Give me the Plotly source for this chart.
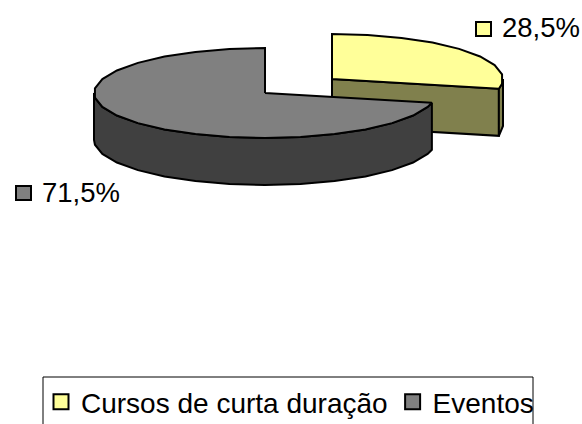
import math
import plotly.graph_objects as go

categories = ["Cursos de curta duração", "Eventos"]
values = [28.5, 71.5]

W, H = 582, 424
RX, RY, DEPTH = 171, 45, 47
CENTERS = [(332, 79), (265, 93)]
TOP = ["#FFFF99", "#808080"]
SIDE = ["#80804D", "#404040"]
STEP = 12
LW = 2

def pt(c, a, dy=0):
    r = math.radians(a)
    return c[0] + RX * math.sin(r), c[1] - RY * math.cos(r) + dy

def arc(c, a0, a1, dy=0):
    angs = [a0]
    k = math.floor(a0 / STEP) + 1
    while k * STEP < a1:
        angs.append(k * STEP)
        k += 1
    angs.append(a1)
    return [pt(c, a, dy) for a in angs]

def poly(points, fill):
    xs = [p[0] for p in points] + [points[0][0]]
    ys = [p[1] for p in points] + [points[0][1]]
    return go.Scatter(x=xs, y=ys, mode="lines", fill="toself", fillcolor=fill,
                      line=dict(color="black", width=LW), showlegend=False, hoverinfo="skip")

fig = go.Figure()
ends = [360 * values[0] / sum(values), 360]
c0, c1 = CENTERS

# yellow slice: cut face, rim, top
a = ends[0]
fig.add_trace(poly([c0, pt(c0, a), pt(c0, a, DEPTH), (c0[0], c0[1] + DEPTH)], SIDE[0]))
rim = arc(c0, 90, a)
fig.add_trace(poly(rim + [pt(c0, x, DEPTH) for x in [a, 90]], SIDE[0]))
fig.add_trace(poly([c0] + arc(c0, 0, a), TOP[0]))

# grey slice: wall, top
wall_top = arc(c1, a, 270)
wall_bot = arc(c1, a, 270, DEPTH)[::-1]
fig.add_trace(poly(wall_top + wall_bot, SIDE[1]))
fig.add_trace(poly([c1] + arc(c1, a, 360), TOP[1]))

# legend entries
for name, col in zip(categories, TOP):
    fig.add_trace(go.Scatter(x=[None], y=[None], mode="markers", name=name,
                             marker=dict(symbol="square", size=15, color=col,
                                         line=dict(color="black", width=2))))

def label(v):
    return f"{v:.1f}".replace(".", ",") + "%"

keys = [(476, 22, 491, 36), (16, 186, 31, 200)]
texts = [(500, 27), (40, 192)]
shapes = [dict(type="rect", xref="x", yref="y", x0=k[0], y0=k[1], x1=k[2], y1=k[3],
               fillcolor=c, line=dict(color="black", width=2)) for k, c in zip(keys, TOP)]
shapes.append(dict(type="rect", xref="x", yref="y", x0=43, y0=377, x1=533, y1=440,
                   fillcolor="rgba(0,0,0,0)", line=dict(color="black", width=1)))
annotations = [dict(x=t[0], y=t[1], xref="x", yref="y", text=label(v), showarrow=False,
                    xanchor="left", yanchor="middle", font=dict(size=27.5, color="black"))
               for t, v in zip(texts, values)]

fig.update_layout(
    width=W, height=H, margin=dict(l=0, r=0, t=0, b=0, autoexpand=False),
    paper_bgcolor="white", plot_bgcolor="white",
    font=dict(family="Liberation Sans, Arial, sans-serif", color="black"),
    xaxis=dict(range=[0, W], visible=False, fixedrange=True),
    yaxis=dict(range=[H, 0], visible=False, fixedrange=True),
    shapes=shapes, annotations=annotations,
    legend=dict(orientation="h", x=41 / W, xanchor="left", y=(H - 377) / H, yanchor="top",
                font=dict(size=28), borderwidth=0, bgcolor="rgba(0,0,0,0)",
                itemclick=False, itemdoubleclick=False),
)
fig.write_html("out.html", config=dict(displayModeBar=False),
               post_script="document.body.style.margin='0';document.body.style.overflow='hidden';")
